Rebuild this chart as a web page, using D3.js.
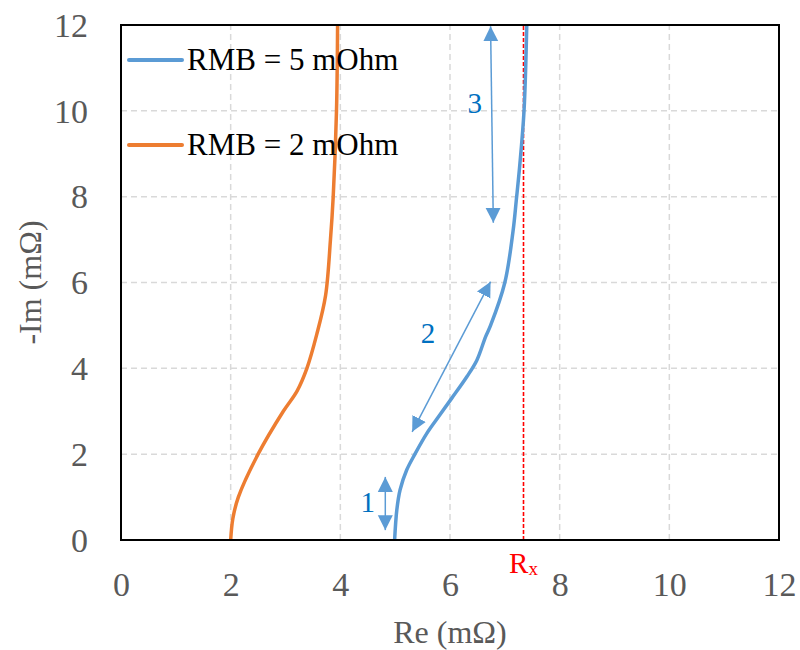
<!DOCTYPE html>
<html><head><meta charset="utf-8">
<script src="https://cdn.jsdelivr.net/npm/d3@7"></script>
<style>
body{margin:0;background:#fff}
svg text{font-family:"Liberation Serif","Times New Roman","DejaVu Serif",serif;}
</style>
</head><body>
<script>
// ---- data ----
const xTicks = [0, 2, 4, 6, 8, 10, 12];
const yTicks = [0, 2, 4, 6, 8, 10, 12];
const seriesNames = ["RMB = 5 mOhm", "RMB = 2 mOhm"];
const blueIm = [0, 0.7, 1.17, 1.63, 2.0, 2.49, 2.87, 3.3, 3.81, 4.19, 4.74, 5.0, 6.0, 7.2, 7.93, 8.7, 10, 12];
const blueRe = [4.99, 5.03, 5.09, 5.21, 5.36, 5.58, 5.79, 6.03, 6.31, 6.49, 6.65, 6.74, 7.0, 7.15, 7.21, 7.27, 7.35, 7.40];
const orangeIm = [0, 0.5, 1, 2, 3, 3.47, 4, 4.79, 5.69, 7, 8, 10, 12];
const orangeRe = [2.0, 2.04, 2.14, 2.5, 2.96, 3.21, 3.39, 3.57, 3.73, 3.82, 3.87, 3.93, 3.95];
const rx = 7.34;
const arrowLabels = ["1", "2", "3"];
const arrowStart = [[4.82, 1.47], [6.74, 6.02], [6.74, 11.97]];
const arrowEnd = [[4.82, 0.23], [5.31, 2.52], [6.79, 7.39]];
const labelPos = [[4.5, 0.65], [5.6, 4.6], [6.45, 9.95]];

const W = 800, H = 650;
const m = {left: 121, right: 21, top: 25, bottom: 110};
const svg = d3.select("body").append("svg").attr("width", W).attr("height", H);
const x = d3.scaleLinear().domain([0, 12]).range([m.left, W - m.right]);
const y = d3.scaleLinear().domain([0, 12]).range([H - m.bottom, m.top]);

// grid
svg.append("g").selectAll("line").data(xTicks.filter(d => d > 0 && d < 12)).join("line")
  .attr("x1", d => x(d)).attr("x2", d => x(d)).attr("y1", y(0)).attr("y2", y(12))
  .attr("stroke", "#d9d9d9").attr("stroke-width", 1.5).attr("stroke-dasharray", "6,4");
svg.append("g").selectAll("line").data(yTicks.filter(d => d > 0 && d < 12)).join("line")
  .attr("y1", d => y(d)).attr("y2", d => y(d)).attr("x1", x(0)).attr("x2", x(12))
  .attr("stroke", "#d9d9d9").attr("stroke-width", 1.5).attr("stroke-dasharray", "6,4");

// Rx line
const rxPx = Math.round(x(rx)) + 0.5;
svg.append("line").attr("x1", rxPx).attr("x2", rxPx).attr("y1", y(0)).attr("y2", y(12))
  .attr("stroke", "#ff0000").attr("stroke-width", 1.6).attr("stroke-dasharray", "4,2");

// curves
const line = d3.line().x(d => x(d[0])).y(d => y(d[1])).curve(d3.curveCatmullRom.alpha(0.5));
const blueData = blueIm.map((v, i) => [blueRe[i], v]);
const orangeData = orangeIm.map((v, i) => [orangeRe[i], v]);
svg.append("path").datum(orangeData).attr("d", line).attr("fill", "none")
  .attr("stroke", "#ED7D31").attr("stroke-width", 3.5);
svg.append("path").datum(blueData).attr("d", line).attr("fill", "none")
  .attr("stroke", "#5B9BD5").attr("stroke-width", 3.5);

// frame
svg.append("rect").attr("x", x(0)).attr("y", y(12)).attr("width", x(12) - x(0)).attr("height", y(0) - y(12))
  .attr("fill", "none").attr("stroke", "#000").attr("stroke-width", 2);

// axes (labels only)
const xAxis = d3.axisBottom(x).tickValues(xTicks).tickSize(0).tickPadding(0);
const gx = svg.append("g").attr("transform", `translate(0,${y(0)})`).call(xAxis);
gx.attr("font-family", null);
gx.select(".domain").remove();
gx.selectAll("text").attr("font-size", 34).attr("fill", "#595959")
  .attr("dy", null).attr("y", 56);
const yAxis = d3.axisLeft(y).tickValues(yTicks).tickSize(0).tickPadding(0);
const gy = svg.append("g").attr("transform", `translate(${x(0)},0)`).call(yAxis);
gy.attr("font-family", null);
gy.select(".domain").remove();
gy.selectAll("text").attr("font-size", 34).attr("fill", "#595959")
  .attr("x", -33).attr("dy", "0.33em");

// axis titles
svg.append("text").attr("x", (x(0) + x(12)) / 2).attr("y", 643).attr("text-anchor", "middle")
  .attr("font-size", 32).attr("fill", "#595959").text("Re (mΩ)");
svg.append("text").attr("transform", `translate(41,${(y(0) + y(12)) / 2}) rotate(-90)`)
  .attr("text-anchor", "middle").attr("font-size", 32)
  .attr("fill", "#595959").text("-Im (mΩ)");

// Rx label
const rxt = svg.append("text").attr("x", x(rx)).attr("y", 573).attr("text-anchor", "middle")
  .attr("font-size", 29).attr("fill", "#ff0000");
rxt.append("tspan").text("R");
rxt.append("tspan").attr("font-size", 19).attr("dy", 2).text("x");

// arrows
const defs = svg.append("defs");
defs.append("marker").attr("id", "ah").attr("viewBox", "0 -8 15 16").attr("refX", 15).attr("refY", 0)
  .attr("markerWidth", 15).attr("markerHeight", 16).attr("markerUnits", "userSpaceOnUse")
  .attr("orient", "auto-start-reverse")
  .append("path").attr("d", "M0,-7.5L15,0L0,7.5Z").attr("fill", "#5B9BD5");
svg.append("g").selectAll("line").data(arrowStart).join("line")
  .attr("x1", d => x(d[0])).attr("y1", d => y(d[1]))
  .attr("x2", (d, i) => x(arrowEnd[i][0])).attr("y2", (d, i) => y(arrowEnd[i][1]))
  .attr("stroke", "#5B9BD5").attr("stroke-width", 1.5)
  .attr("marker-start", "url(#ah)").attr("marker-end", "url(#ah)");
svg.append("g").selectAll("text").data(arrowLabels).join("text")
  .attr("x", (d, i) => x(labelPos[i][0])).attr("y", (d, i) => y(labelPos[i][1]))
  .attr("text-anchor", "middle").attr("font-size", 29)
  .attr("fill", "#0070C0").text(d => d);

// legend
const legColors = ["#5B9BD5", "#ED7D31"];
const legY = [60, 145];
const lg = svg.append("g");
seriesNames.forEach((n, i) => {
  lg.append("line").attr("x1", 129).attr("x2", 182).attr("y1", legY[i]).attr("y2", legY[i])
    .attr("stroke", legColors[i]).attr("stroke-width", 4).attr("stroke-linecap", "round");
  lg.append("text").attr("x", 187).attr("y", legY[i] + 10)
    .attr("font-size", 31).attr("fill", "#000").text(n);
});
</script>
</body></html>
